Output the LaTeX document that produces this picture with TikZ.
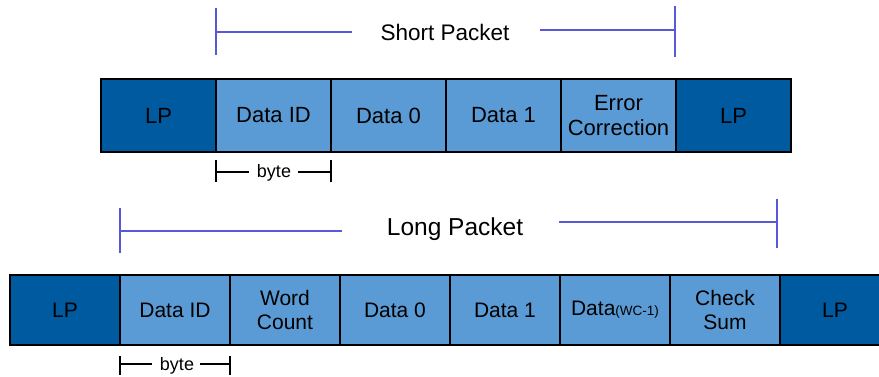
\documentclass[tikz,border=0pt]{standalone}
\usepackage{fontspec}
\setmainfont{Liberation Sans}
\usepackage{tikz}
\usetikzlibrary{positioning}

\definecolor{lpblue}{RGB}{0,90,160}
\definecolor{datablue}{RGB}{91,155,213}
\definecolor{spanblue}{RGB}{88,88,216}

\tikzset{
  cell/.style={draw=black, line width=1.6pt, inner sep=0pt, outer sep=0pt,
    align=center},
  shortcell/.style={cell, minimum width=115pt, minimum height=73pt,
    font=\fontsize{22}{25}\selectfont},
  longcell/.style={cell, minimum width=110pt, minimum height=70pt,
    font=\fontsize{21}{24}\selectfont},
  lp/.style={fill=lpblue},
  dat/.style={fill=datablue},
  span/.style={spanblue, line width=1.6pt},
  bytebar/.style={black, line width=1.5pt},
  spantext/.style={inner sep=0pt},
  bytetext/.style={inner sep=0pt, font=\fontsize{18}{20}\selectfont}
}

\begin{document}
\begin{tikzpicture}[
    x=1pt,y=-1pt
    ]
    \clip (0,0) rectangle (879,377);
    \fill[white] (0,0) rectangle (879,377);

    % short packet
    \node[shortcell, lp, anchor=north west] (s0) at (101,79) {LP};
    \node[shortcell, dat, right=0pt of s0] (s1) {Data ID};
    \node[shortcell, dat, right=0pt of s1] (s2) {Data 0};
    \node[shortcell, dat, right=0pt of s2] (s3) {Data 1};
    \node[shortcell, dat, right=0pt of s3] (s4) {Error\\Correction};
    \node[shortcell, lp, right=0pt of s4] (s5) {LP};

    \node[spantext, font=\fontsize{22.5}{25}\selectfont] (slbl) at (445,32) {Short Packet};
    \draw[span] (216,8) -- (216,55);
    \draw[span] (216,32) -- (352,32);
    \draw[span] (540,30) -- (675,30);
    \draw[span] (675,6) -- (675,57);

    \node[bytetext] (sbyte) at (274,173) {byte};
    \draw[bytebar] (s1.west |- 0,160) -- (s1.west |- 0,182);
    \draw[bytebar] (s1.west |- 0,172) -- (249,172);
    \draw[bytebar] (298,172) -- (s1.east |- 0,172);
    \draw[bytebar] (s1.east |- 0,160) -- (s1.east |- 0,182);

    % long packet
    \node[longcell, lp, anchor=north west] (l0) at (10,275) {LP};
    \node[longcell, dat, right=0pt of l0] (l1) {Data ID};
    \node[longcell, dat, right=0pt of l1] (l2) {Word\\Count};
    \node[longcell, dat, right=0pt of l2] (l3) {Data 0};
    \node[longcell, dat, right=0pt of l3] (l4) {Data 1};
    \node[longcell, dat, right=0pt of l4, text depth=4pt] (l5)
      {Data{\fontsize{13.5}{15}\selectfont(WC-1)}};
    \node[longcell, dat, right=0pt of l5] (l6) {Check\\Sum};
    \node[longcell, lp, right=0pt of l6] (l7) {LP};

    \node[spantext, font=\fontsize{24.5}{27}\selectfont] (llbl) at (455,229) {Long Packet};
    \draw[span] (120,208) -- (120,253);
    \draw[span] (120,231) -- (342,231);
    \draw[span] (559,222) -- (777,222);
    \draw[span] (777,199) -- (777,248);

    \node[bytetext] (lbyte) at (177,366) {byte};
    \draw[bytebar] (l1.west |- 0,356) -- (l1.west |- 0,375);
    \draw[bytebar] (l1.west |- 0,364) -- (152,364);
    \draw[bytebar] (200,364) -- (l1.east |- 0,364);
    \draw[bytebar] (l1.east |- 0,356) -- (l1.east |- 0,375);
  \end{tikzpicture}
\end{document}
